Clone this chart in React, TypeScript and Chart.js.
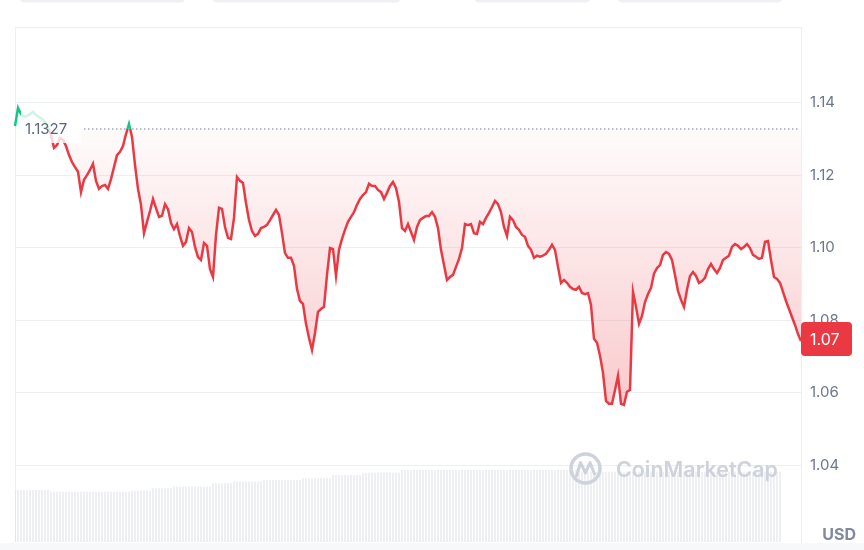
import React, { useEffect, useRef } from 'react';
import { Chart, registerables } from 'chart.js';

Chart.register(...registerables);

const prices: number[] = [
  1.1335, 1.1385, 1.1368, 1.1360, 1.1363, 1.1368, 1.1374, 1.1366, 1.1360, 1.1355,
  1.1346, 1.1333, 1.1310, 1.1275, 1.1283, 1.1302, 1.1297, 1.1280, 1.1255, 1.1236,
  1.1222, 1.1209, 1.1153, 1.1187, 1.1200, 1.1214, 1.1231, 1.1184, 1.1162, 1.1170,
  1.1173, 1.1162, 1.1189, 1.1222, 1.1255, 1.1264, 1.1280, 1.1313, 1.1341, 1.1305,
  1.1228, 1.1162, 1.1118, 1.1040, 1.1071, 1.1101, 1.1134, 1.1109, 1.1085, 1.1088,
  1.1120, 1.1106, 1.1068, 1.1051, 1.1065, 1.1032, 1.1005, 1.1016, 1.1054, 1.1043,
  1.1002, 1.0974, 1.0966, 1.1013, 1.1005, 1.0941, 1.0919, 1.1035, 1.1110, 1.1107,
  1.1057, 1.1027, 1.1024, 1.1082, 1.1195, 1.1184, 1.1178, 1.1123, 1.1076, 1.1046,
  1.1032, 1.1038, 1.1054, 1.1057, 1.1063, 1.1076, 1.1090, 1.1104, 1.1090, 1.1040,
  1.0985, 1.0972, 1.0972, 1.0950, 1.0886, 1.0853, 1.0845, 1.0790, 1.0751, 1.0718,
  1.0765, 1.0823, 1.0831, 1.0837, 1.0925, 1.0999, 1.0996, 1.0922, 1.0994, 1.1024,
  1.1049, 1.1071, 1.1085, 1.1098, 1.1118, 1.1134, 1.1145, 1.1153, 1.1176, 1.1170,
  1.1170, 1.1159, 1.1153, 1.1134, 1.1151, 1.1170, 1.1181, 1.1164, 1.1126, 1.1054,
  1.1046, 1.1065, 1.1043, 1.1021, 1.1057, 1.1076, 1.1082, 1.1087, 1.1087, 1.1098,
  1.1085, 1.1054, 1.0994, 1.0952, 1.0911, 1.0919, 1.0925, 1.0947, 1.0969, 1.0999,
  1.1065, 1.1062, 1.1065, 1.1040, 1.1038, 1.1071, 1.1065, 1.1082, 1.1096, 1.1112,
  1.1129, 1.1120, 1.1098, 1.1057, 1.1032, 1.1085, 1.1076, 1.1057, 1.1049, 1.1035,
  1.1030, 1.1005, 1.0994, 1.0972, 1.0978, 1.0975, 1.0978, 1.0983, 1.0994, 1.1008,
  1.0994, 1.0947, 1.0903, 1.0911, 1.0903, 1.0892, 1.0886, 1.0884, 1.0892, 1.0875,
  1.0872, 1.0875, 1.0842, 1.0749, 1.0738, 1.0702, 1.0655, 1.0578, 1.0570, 1.0570,
  1.0608, 1.0647, 1.0570, 1.0567, 1.0603, 1.0608, 1.0878, 1.0837, 1.0790, 1.0812,
  1.0850, 1.0872, 1.0889, 1.0928, 1.0944, 1.0952, 1.0980, 1.0988, 1.0983, 1.0966,
  1.0925, 1.0881, 1.0856, 1.0837, 1.0884, 1.0922, 1.0933, 1.0922, 1.0903, 1.0908,
  1.0917, 1.0941, 1.0955, 1.0941, 1.0930, 1.0944, 1.0966, 1.0972, 1.0978, 1.1002,
  1.1010, 1.1005, 1.0996, 1.1002, 1.1010, 1.0999, 1.0980, 1.0975, 1.0969, 1.0972,
  1.1016, 1.1018, 1.0966, 1.0919, 1.0914, 1.0903, 1.0878, 1.0853, 1.0831, 1.0809,
  1.0787, 1.0762, 1.0743,
];

const volumes: (number | null)[] = [
  40.4, 40.4, 40.4, 40.4, 40.4, 40.4, 40.4, 40.4, 40.4, 40.4, 40.4, 40.4,
  39.1, 39.1, 39.1, 39.1, 39.1, 39.1, 39.1, 39.1, 39.1, 39.1, 39.1, 39.1, 39.1, 39.1,
  39.1, 39.1, 39.1, 39.1, 39.1, 39.1, 39.1, 39.1, 39.1, 39.1, 39.1, 39.1, 39.1,
  39.9, 39.9, 39.9, 39.9, 39.9, 39.9, 39.9,
  41.7, 41.7, 41.7, 41.7, 41.7, 41.7, 41.7,
  43.0, 43.0, 43.0, 43.0, 43.0, 43.0, 43.0, 43.0, 43.0, 43.0, 43.0, 43.0, 43.0,
  45.6, 45.6, 45.6, 45.6, 45.6, 45.6, 45.6,
  46.9, 46.9, 46.9, 46.9, 46.9, 46.9, 46.9, 46.9, 46.9, 46.9,
  48.2, 48.2, 48.2, 48.2, 48.2, 48.2, 48.2, 48.2, 48.2, 48.2, 48.2, 48.2, 48.2,
  49.5, 49.5, 49.5, 49.5, 49.5, 49.5, 49.5, 49.5, 49.5, 49.5,
  52.1, 52.1, 52.1, 52.1, 52.1, 52.1, 52.1, 52.1, 52.1, 52.1,
  53.8, 53.8, 53.8, 53.8, 53.8, 53.8, 53.8, 53.8, 53.8, 53.8, 53.8, 53.8, 53.8,
  55.9, 55.9, 55.9, 55.9, 55.9, 55.9, 55.9, 55.9, 55.9, 55.9,
  55.9, 55.9, 55.9, 55.9, 55.9, 55.9, 55.9, 55.9, 55.9, 55.9,
  55.9, 55.9, 55.9, 55.9, 55.9, 55.9, 55.9, 55.9, 55.9, 55.9,
  55.9, 55.9, 55.9, 55.9, 55.9, 55.9, 55.9, 55.9, 55.9, 55.9,
  55.9, 55.9, 55.9, 55.9, 55.9, 55.9, 55.9, 55.9, 55.9, 55.9,
  55.9, 55.9, 55.9, 55.9, 55.9, 55.9, 55.9, 55.9, 55.9, 55.9,
  54.6, 54.6, 54.6, 54.6, 54.6, 54.6, 54.6, 54.6, 54.6, 54.6,
  54.6, 54.6, 54.6, 54.6, 54.6, 54.6, 54.6, 54.6, 54.6, 54.6,
  54.6, 54.6, 54.6, 54.6, 54.6, 54.6, 54.6, 54.6, 54.6, 54.6,
  54.6, 54.6, 54.6, 54.6, 54.6, 54.6, 54.6, 54.6, 54.6, 54.6,
  54.6, 54.6, 54.6, 54.6, 54.6, 54.6, 54.6, 54.6, 54.6, 54.6,
  54.6, 54.6, 54.6, 54.6, 54.6, 54.6, 54.6, 54.6, 54.6, 54.6,
  54.6, 54.6, 54.6, 54.6, 54.6, 54.6, 54.6,
  null, null, null, null, null, null, null,
];

const labels: string[] = prices.map((_, i) => `${i}`);
const yTicks: number[] = [1.04, 1.06, 1.08, 1.1, 1.12, 1.14];
const baselinePrice = 1.1327;
const baselineLabel = '1.1327';
const currencyLabel = 'USD';
const watermarkText = 'CoinMarketCap';

const RED = '#ea3943';
const GREEN = '#16c784';
const FONT = 'Inter, "DejaVu Sans", sans-serif';
const GRID = '#eceff3';

function rr(ctx: CanvasRenderingContext2D, x: number, y: number, w: number, h: number, r: number) {
  ctx.beginPath();
  ctx.moveTo(x + r, y);
  ctx.lineTo(x + w - r, y);
  ctx.quadraticCurveTo(x + w, y, x + w, y + r);
  ctx.lineTo(x + w, y + h - r);
  ctx.quadraticCurveTo(x + w, y + h, x + w - r, y + h);
  ctx.lineTo(x + r, y + h);
  ctx.quadraticCurveTo(x, y + h, x, y + h - r);
  ctx.lineTo(x, y + r);
  ctx.quadraticCurveTo(x, y, x + r, y);
  ctx.closePath();
}

export default function App() {
  const ref = useRef<HTMLCanvasElement>(null);

  useEffect(() => {
    const canvas = ref.current;
    if (!canvas) return;

    const clamp = (v: number) => Math.max(0, Math.min(1, v));

    const decor = {
      id: 'decor',
      beforeDraw(chart: any) {
        const ctx: CanvasRenderingContext2D = chart.ctx;
        ctx.save();
        ctx.fillStyle = '#eef0f4';
        [[20, 165], [213, 187], [475, 115], [618, 164]].forEach(([x, w]) => {
          rr(ctx, x, -8, w, 10.5, 4);
          ctx.fill();
        });
        ctx.fillStyle = '#f7f8fa';
        ctx.fillRect(0, 543, 864, 7);
        ctx.restore();
      },
      beforeDatasetsDraw(chart: any) {
        const { ctx, chartArea } = chart;
        ctx.save();
        ctx.strokeStyle = GRID;
        ctx.lineWidth = 1;
        ctx.beginPath();
        ctx.moveTo(chartArea.left + 0.5, chartArea.top);
        ctx.lineTo(chartArea.left + 0.5, chartArea.bottom);
        ctx.moveTo(chartArea.left, chartArea.top + 0.5);
        ctx.lineTo(chartArea.right, chartArea.top + 0.5);
        ctx.stroke();
        ctx.restore();
      },
      afterDatasetsDraw(chart: any) {
        const { ctx, chartArea, scales } = chart;
        const yb = scales.y.getPixelForValue(baselinePrice);
        ctx.save();
        // dotted baseline
        ctx.fillStyle = '#a3aabb';
        for (let x = 84; x < chartArea.right - 1; x += 4) {
          ctx.fillRect(x, yb - 0.75, 1.5, 1.5);
        }
        // baseline label
        ctx.fillStyle = 'rgba(255,255,255,0.8)';
        ctx.fillRect(21, yb - 19, 60, 33);
        ctx.fillStyle = '#58667e';
        ctx.font = `15px ${FONT}`;
        ctx.textBaseline = 'middle';
        ctx.textAlign = 'left';
        ctx.fillText(baselineLabel, 25, yb + 1);
        // watermark
        const wm = '#cdd2dc';
        ctx.strokeStyle = wm;
        ctx.lineWidth = 3.5;
        ctx.beginPath();
        ctx.arc(585.5, 468.5, 14.5, 0, Math.PI * 2);
        ctx.stroke();
        ctx.lineWidth = 3;
        ctx.lineJoin = 'round';
        ctx.lineCap = 'round';
        ctx.beginPath();
        ctx.moveTo(576.5, 476);
        ctx.lineTo(580.5, 462.5);
        ctx.lineTo(585.5, 473);
        ctx.lineTo(590, 462.5);
        ctx.lineTo(594.5, 474);
        ctx.stroke();
        ctx.font = `600 22px ${FONT}`;
        const mw = ctx.measureText(watermarkText).width;
        const size = (22 * 162) / mw;
        ctx.font = `600 ${size.toFixed(2)}px ${FONT}`;
        ctx.fillStyle = wm;
        ctx.textBaseline = 'alphabetic';
        ctx.fillText(watermarkText, 616, 477);
        ctx.restore();
      },
      afterDraw(chart: any) {
        const { ctx, chartArea, scales } = chart;
        const last = prices[prices.length - 1];
        const y = scales.y.getPixelForValue(last);
        ctx.save();
        ctx.fillStyle = RED;
        rr(ctx, chartArea.right, y - 19, 51, 34, 4);
        ctx.fill();
        ctx.fillStyle = '#ffffff';
        ctx.font = `16px ${FONT}`;
        ctx.textBaseline = 'middle';
        ctx.textAlign = 'left';
        ctx.fillText(last.toFixed(2), chartArea.right + 9, y - 1);
        ctx.fillStyle = '#808a9d';
        ctx.font = `700 16px ${FONT}`;
        ctx.textAlign = 'right';
        ctx.fillText(currencyLabel, 856, 535);
        ctx.restore();
      },
    };

    const lineColor = (c: any) => {
      const { chart } = c;
      const { chartArea, scales } = chart;
      if (!chartArea || !scales.y) return RED;
      const y0 = scales.y.getPixelForValue(baselinePrice);
      const s = clamp((y0 - chartArea.top) / (chartArea.bottom - chartArea.top));
      const g = chart.ctx.createLinearGradient(0, chartArea.top, 0, chartArea.bottom);
      g.addColorStop(0, GREEN);
      g.addColorStop(s, GREEN);
      g.addColorStop(s, RED);
      g.addColorStop(1, RED);
      return g;
    };

    const fillColor = (c: any) => {
      const { chart } = c;
      const { chartArea, scales } = chart;
      if (!chartArea || !scales.y) return 'rgba(234,57,67,0.1)';
      const h = chartArea.bottom - chartArea.top;
      const y0 = scales.y.getPixelForValue(baselinePrice);
      const yLow = scales.y.getPixelForValue(1.055);
      const s = clamp((y0 - chartArea.top) / h);
      const s2 = clamp((yLow - chartArea.top) / h);
      const g = chart.ctx.createLinearGradient(0, chartArea.top, 0, chartArea.bottom);
      g.addColorStop(0, 'rgba(22,199,132,0.10)');
      g.addColorStop(s, 'rgba(22,199,132,0.03)');
      g.addColorStop(s, 'rgba(234,57,67,0.02)');
      g.addColorStop(s2, 'rgba(234,57,67,0.27)');
      g.addColorStop(1, 'rgba(234,57,67,0.30)');
      return g;
    };

    const chart = new Chart(canvas, {
      type: 'line',
      data: {
        labels,
        datasets: [
          {
            type: 'line',
            data: prices,
            yAxisID: 'y',
            borderColor: lineColor,
            backgroundColor: fillColor,
            borderWidth: 2.5,
            pointRadius: 0,
            tension: 0,
            fill: { target: { value: baselinePrice } },
            order: 0,
          } as any,
          {
            type: 'bar',
            data: volumes,
            yAxisID: 'yv',
            backgroundColor: 'rgba(214,219,228,0.45)',
            barPercentage: 0.65,
            categoryPercentage: 1,
            order: 1,
          } as any,
        ],
      },
      options: {
        animation: false,
        responsive: false,
        maintainAspectRatio: false,
        devicePixelRatio: 1,
        layout: { padding: { left: 15, top: 27, right: 0, bottom: 8 } },
        plugins: { legend: { display: false }, tooltip: { enabled: false } },
        scales: {
          x: { display: false, offset: false, grid: { display: false } },
          y: {
            position: 'right',
            min: 1.0189,
            max: 1.1608,
            afterBuildTicks: (scale: any) => {
              scale.ticks = yTicks.map((v) => ({ value: v }));
            },
            afterFit: (scale: any) => {
              scale.width = 63;
              scale.paddingTop = 0;
              scale.paddingBottom = 0;
            },
            grid: { color: GRID, drawTicks: false, lineWidth: 1 },
            border: { display: true, color: GRID },
            ticks: {
              padding: 9,
              color: '#6d778b',
              font: { family: FONT, size: 15 },
              callback: (v: any) => Number(v).toFixed(2),
            },
          },
          yv: {
            display: false,
            min: 0,
            max: 400,
            afterFit: (scale: any) => {
              scale.paddingTop = 0;
              scale.paddingBottom = 0;
            },
          },
        },
      } as any,
      plugins: [decor],
    });

    return () => chart.destroy();
  }, []);

  return (
    <div style={{ position: 'fixed', left: 0, top: 0, width: 864, height: 550, background: '#ffffff' }}>
      <canvas ref={ref} width={864} height={550} style={{ display: 'block', width: 864, height: 550 }} />
    </div>
  );
}
